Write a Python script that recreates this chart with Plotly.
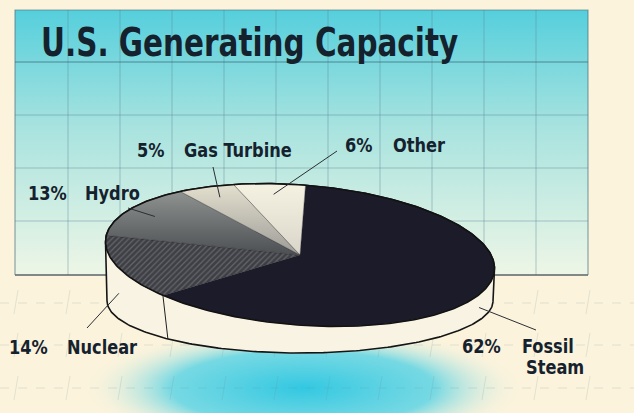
import numpy as np
import plotly.graph_objects as go

# ---- data -------------------------------------------------------------
categories = ["Fossil Steam", "Nuclear", "Hydro", "Gas Turbine", "Other"]
shares = [62, 14, 13, 5, 6]                      # percent of capacity
name_lines = [["Fossil", "Steam"], ["Nuclear"], ["Hydro"], ["Gas Turbine"], ["Other"]]
title_text = "U.S. Generating Capacity"

# ---- styling / layout constants ---------------------------------------
W, H = 634, 413
CREAM = "#fbf3dc"
INK = "#15222e"
FONT = "DejaVu Sans Condensed, Liberation Sans Narrow, sans-serif"

slice_style = {
    "Fossil Steam": dict(fillcolor="#1c1b2a"),
    "Nuclear": dict(fillcolor="#3e3f45",
                    fillpattern=dict(shape="/", bgcolor="#3e3f45", fgcolor="#8c8c92",
                                     size=4, solidity=0.3)),
    "Hydro": dict(fillgradient=dict(type="vertical",
                                    colorscale=[[0, "#4c5053"], [1, "#8e9290"]])),
    "Gas Turbine": dict(fillgradient=dict(type="vertical",
                                          colorscale=[[0, "#9d9c97"], [1, "#e4e0cf"]])),
    "Other": dict(fillgradient=dict(type="vertical",
                                    colorscale=[[0, "#d9d6ca"], [1, "#f6f2e2"]])),
}

# label anchors: (percent x, name x, y, leader end x, leader end y)
label_pos = {
    "Fossil Steam": (460, 520, 346, 536, 330),
    "Nuclear": (7, 65, 347, 87, 328),
    "Hydro": (26, 83, 193, 128, 208),
    "Gas Turbine": (135, 182, 150, 213, 167),
    "Other": (343, 391, 145, 337, 151),
}

# pie geometry (pixel space, y grows downward)
cx, cy = 300, 255            # centre of top face
ra, rb = 195, 70             # top face semi-axes
tilt = np.deg2rad(4.5)       # clockwise tilt of the top face
bcx, bcy = 300, 301          # centre of base ellipse
ba, bb = 193, 52             # base semi-axes


def top_pt(theta, r=1.0):
    lx, ly = r * ra * np.sin(theta), -r * rb * np.cos(theta)
    return (cx + lx * np.cos(tilt) - ly * np.sin(tilt),
            cy + lx * np.sin(tilt) + ly * np.cos(tilt))


def base_pt(theta):
    return bcx + ba * np.sin(theta), bcy - bb * np.cos(theta)


def hull(points):
    pts = sorted(set(points))

    def cross(o, a, b):
        return (a[0] - o[0]) * (b[1] - o[1]) - (a[1] - o[1]) * (b[0] - o[0])
    lower, upper = [], []
    for p in pts:
        while len(lower) >= 2 and cross(lower[-2], lower[-1], p) <= 0:
            lower.pop()
        lower.append(p)
    for p in reversed(pts):
        while len(upper) >= 2 and cross(upper[-2], upper[-1], p) <= 0:
            upper.pop()
        upper.append(p)
    return lower[:-1] + upper[:-1]


fig = go.Figure()

# ---- cyan backdrop panel ----------------------------------------------
px0, px1, py0, py1 = 15, 588, 10, 275
fig.add_trace(go.Scatter(
    x=[px0, px1, px1, px0, px0], y=[py0, py0, py1, py1, py0],
    mode="lines", line=dict(width=0), fill="toself",
    fillgradient=dict(type="vertical",
                      colorscale=[[0, "#eef6e6"], [0.55, "#a9e3df"], [1, "#55cfdc"]]),
    hoverinfo="skip", showlegend=False))

# glow under the pie
gt = np.linspace(0, 2 * np.pi, 120)
fig.add_trace(go.Scatter(
    x=303 + 220 * np.cos(gt), y=388 + 62 * np.sin(gt),
    mode="lines", line=dict(width=0), fill="toself",
    fillgradient=dict(type="radial",
                      colorscale=[[0, "rgba(50,200,226,1)"], [0.6, "rgba(95,212,228,0.85)"],
                                  [1, "rgba(251,243,220,0)"]]),
    hoverinfo="skip", showlegend=False))

# grid inside the panel
gx, gy = [], []
for x in range(68, 560, 52):
    gx += [x, x, None]
    gy += [py0, py1, None]
for y in (115, 168, 221):
    gx += [px0, px1, None]
    gy += [y, y, None]
fig.add_trace(go.Scatter(x=gx, y=gy, mode="lines",
                         line=dict(color="rgba(95,135,150,0.45)", width=1),
                         hoverinfo="skip", showlegend=False))
fig.add_trace(go.Scatter(x=[px0, px1], y=[62, 62], mode="lines",
                         line=dict(color="rgba(60,100,115,0.7)", width=1.2),
                         hoverinfo="skip", showlegend=False))
# panel border
fig.add_trace(go.Scatter(x=[px0, px0, px1, px1], y=[py1, py0, py0, py1], mode="lines",
                         line=dict(color="rgba(70,110,125,0.6)", width=1.2),
                         hoverinfo="skip", showlegend=False))
fig.add_trace(go.Scatter(x=[px0, px1], y=[py1, py1], mode="lines",
                         line=dict(color="#5a6468", width=1.6),
                         hoverinfo="skip", showlegend=False))

# faint floor grid below the panel
fx, fy = [], []
for y in (303, 345, 388):
    fx += [0, W, None]
    fy += [y, y, None]
fig.add_trace(go.Scatter(x=fx, y=fy, mode="lines",
                         line=dict(color="rgba(110,140,150,0.2)", width=1, dash="dash"),
                         hoverinfo="skip", showlegend=False))
vx, vy = [], []
for x in range(16, 640, 52):
    for y0 in (290, 333, 376):
        vx += [x + 2, x - 2, None]
        vy += [y0, y0 + 24, None]
fig.add_trace(go.Scatter(x=vx, y=vy, mode="lines",
                         line=dict(color="rgba(110,140,150,0.18)", width=1),
                         hoverinfo="skip", showlegend=False))

# ---- pie body ---------------------------------------------------------
ts = np.linspace(0, 2 * np.pi, 361)
ring = [tuple(np.round(top_pt(t), 3)) for t in ts] + [tuple(np.round(base_pt(t), 3)) for t in ts]
hp = hull(ring)
hx = [p[0] for p in hp] + [hp[0][0]]
hy = [p[1] for p in hp] + [hp[0][1]]
fig.add_trace(go.Scatter(x=hx, y=hy, mode="lines", fill="toself", fillcolor="#f8f3e3",
                         line=dict(color="#151515", width=1.6),
                         hoverinfo="skip", showlegend=False))

total = float(sum(shares))
bounds = np.concatenate([[0], np.cumsum(shares)]) / total * 2 * np.pi
for i, name in enumerate(categories):
    a0, a1 = bounds[i], bounds[i + 1]
    arc = np.linspace(a0, a1, max(int((a1 - a0) * 60), 8))
    pts = [top_pt(t) for t in arc]
    xs = [cx] + [p[0] for p in pts] + [cx]
    ys = [cy] + [p[1] for p in pts] + [cy]
    fig.add_trace(go.Scatter(x=xs, y=ys, mode="lines", fill="toself",
                             line=dict(color="rgba(40,40,45,0.55)", width=0.7),
                             name=name, hoverinfo="name", showlegend=False,
                             **slice_style[name]))

# slice edges running down the visible rim
for b in bounds[1:-1]:
    if np.cos(b) < 0:
        x0, y0 = top_pt(b)
        x1, y1 = base_pt(b)
        fig.add_trace(go.Scatter(x=[x0, x1], y=[y0, y1], mode="lines",
                                 line=dict(color="#202020", width=1),
                                 hoverinfo="skip", showlegend=False))

# top face outline
tx, ty = zip(*[top_pt(t) for t in ts])
fig.add_trace(go.Scatter(x=tx, y=ty, mode="lines", line=dict(color="#121212", width=1.6),
                         hoverinfo="skip", showlegend=False))

# ---- labels and leaders -----------------------------------------------
ann = []
for i, name in enumerate(categories):
    mid = (bounds[i] + bounds[i + 1]) / 2
    if np.cos(mid) < 0:          # front slice: leader touches the rim
        (ax0, ay0), (ax1, ay1) = top_pt(mid), base_pt(mid)
        sx, sy = (ax0 + ax1) / 2, (ay0 + ay1) / 2
    else:
        sx, sy = top_pt(mid, 0.85)
    pxl, nxl, ly, ex, ey = label_pos[name]
    fig.add_trace(go.Scatter(x=[ex, sx], y=[ey, sy], mode="lines",
                             line=dict(color="#2a2f35", width=1),
                             hoverinfo="skip", showlegend=False))
    ann.append(dict(x=pxl, y=ly, text=f"{shares[i]}%", showarrow=False,
                    xanchor="left", yanchor="middle",
                    font=dict(family=FONT, size=20, color=INK, weight="bold")))
    for k, line in enumerate(name_lines[i]):
        ann.append(dict(x=nxl + 4 * k, y=ly + 21 * k, text=line, showarrow=False,
                        xanchor="left", yanchor="middle",
                        font=dict(family=FONT, size=20, color=INK, weight="bold")))

ann.append(dict(x=39, y=42, text=title_text, showarrow=False,
                xanchor="left", yanchor="middle",
                font=dict(family=FONT, size=39, color=INK, weight="bold")))

fig.update_layout(
    width=W, height=H, margin=dict(l=0, r=0, t=0, b=0),
    paper_bgcolor=CREAM, plot_bgcolor=CREAM,
    xaxis=dict(range=[0, W], visible=False, fixedrange=True),
    yaxis=dict(range=[H, 0], visible=False, fixedrange=True),
    annotations=ann, showlegend=False,
)

# narrow the bold lettering horizontally (condensed face)
squeeze_js = """
var gd = document.getElementById('{plot_id}');
function squeeze() {
  gd.querySelectorAll('text.annotation-text').forEach(function (t) {
    var big = parseFloat(t.style.fontSize) > 30;
    t.style.transformBox = 'fill-box';
    t.style.transformOrigin = 'left center';
    t.style.transform = 'scaleX(' + (big ? 0.84 : 0.9) + ')';
  });
}
squeeze();
gd.on('plotly_afterplot', squeeze);
"""

fig.write_html("out.html", post_script=squeeze_js)
